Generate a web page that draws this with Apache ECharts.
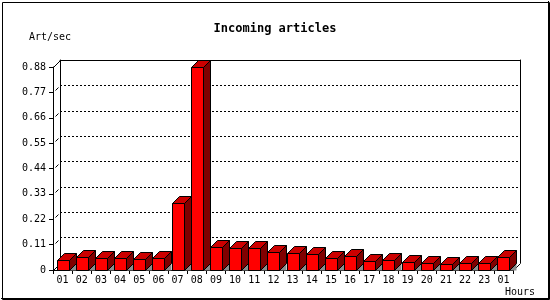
<!DOCTYPE html>
<html>
<head>
<meta charset="utf-8">
<script src="https://cdn.jsdelivr.net/npm/echarts@6/dist/echarts.min.js"></script>
<style>html,body{margin:0;padding:0;background:#fff}#c{width:550px;height:300px}</style>
</head>
<body>
<div id="c"></div>
<script>
const hours = ['01','02','03','04','05','06','07','08','09','10','11','12','13','14','15','16','17','18','19','20','21','22','23','01'];
const artPerSec = [0.042,0.057,0.051,0.051,0.046,0.051,0.291,0.88,0.099,0.094,0.094,0.077,0.072,0.068,0.051,0.059,0.038,0.042,0.033,0.029,0.025,0.029,0.029,0.055];
const yMin = 0, yMax = 0.88, yStep = 0.11;
const titleText = 'Incoming articles';
const yName = 'Art/sec';
const xName = 'Hours';

const FONT = 'DejaVu Sans Mono';
const DEPTH = 7;
const px = v => Math.round(v) + 0.5;

const chart = echarts.init(document.getElementById('c'), null, {renderer: 'canvas'});

function renderBar(params, api) {
  const idx = api.value(0), val = api.value(1);
  const top = api.coord([idx, val]);
  const base = api.coord([idx, 0]);
  const w = Math.round(api.size([1, 0])[0] * 0.6);
  const x0 = px(top[0] - w / 2), x1 = x0 + w;
  const yt = px(top[1]), yb = px(base[1]);
  const d = DEPTH;
  return {
    type: 'group',
    children: [
      {type: 'polygon', shape: {points: [[x1, yb], [x1 + d, yb - d], [x1 + d, yb]]},
       style: {fill: '#8c8c8c', stroke: null}},
      {type: 'polygon', shape: {points: [[x1, yb], [x1, yt], [x1 + d, yt - d], [x1 + d, yb - d]]},
       style: {fill: '#800000', stroke: '#000', lineWidth: 1}},
      {type: 'polygon', shape: {points: [[x0, yt], [x0 + d, yt - d], [x1 + d, yt - d], [x1, yt]]},
       style: {fill: '#cc0000', stroke: '#000', lineWidth: 1}},
      {type: 'rect', shape: {x: x0, y: yt, width: w, height: yb - yt},
       style: {fill: '#ff0000', stroke: '#000', lineWidth: 1}}
    ]
  };
}

function renderFrame(params, api) {
  const r = params.coordSys;
  const d = DEPTH;
  const x = px(r.x), y = px(r.y), xr = px(r.x + r.width), yb = px(r.y + r.height);
  const children = [
    {type: 'line', shape: {x1: x, y1: y, x2: x + d, y2: y - d}, style: {stroke: '#000', lineWidth: 1}},
    {type: 'line', shape: {x1: x, y1: yb, x2: x + d, y2: yb - d}, style: {stroke: '#000', lineWidth: 1}},
    {type: 'line', shape: {x1: xr, y1: yb, x2: xr + d, y2: yb - d}, style: {stroke: '#000', lineWidth: 1}}
  ];
  for (let v = yMin + yStep; v < yMax - 1e-9; v += yStep) {
    const ty = px(api.coord([0, v])[1]);
    children.push({type: 'line', shape: {x1: x + 2, y1: ty - 2, x2: x + 5, y2: ty - 5},
      style: {stroke: '#000', lineWidth: 1}});
  }
  return {type: 'group', children};
}

const option = {
  animation: false,
  backgroundColor: '#fff',
  title: {
    text: titleText, left: 'center', top: 18,
    textStyle: {fontFamily: FONT, fontSize: 12, fontWeight: 'bold', color: '#000'}
  },
  grid: [
    {left: 53, right: 37, top: 67, bottom: 30},
    {left: 60, right: 30, top: 60, bottom: 37}
  ],
  xAxis: [
    {
      type: 'category', gridIndex: 0, data: hours, boundaryGap: true,
      axisLine: {lineStyle: {color: '#000', width: 1}},
      axisTick: {show: true, interval: 0, length: 4, alignWithLabel: false, lineStyle: {color: '#000'}},
      axisLabel: {interval: 0, margin: 5, fontFamily: FONT, fontSize: 10, color: '#000'},
      splitLine: {show: false}
    },
    {
      type: 'value', gridIndex: 1, position: 'top', min: 0, max: 1,
      axisLine: {show: true, onZero: false, lineStyle: {color: '#000', width: 1}},
      axisTick: {show: false}, axisLabel: {show: false}, splitLine: {show: false}
    }
  ],
  yAxis: [
    {
      type: 'value', gridIndex: 0, min: yMin, max: yMax, interval: yStep,
      axisLine: {show: true, lineStyle: {color: '#000', width: 1}},
      axisTick: {show: true, length: 4, lineStyle: {color: '#000'}},
      axisLabel: {margin: 7, fontFamily: FONT, fontSize: 10, color: '#000',
        formatter: v => v === 0 ? '0' : v.toFixed(2)},
      splitLine: {show: false}
    },
    {
      type: 'value', gridIndex: 1, min: yMin, max: yMax, interval: yStep, position: 'left',
      axisLine: {show: true, onZero: false, lineStyle: {color: '#000', width: 1}},
      axisTick: {show: false}, axisLabel: {show: false},
      splitLine: {show: true, showMinLine: false, showMaxLine: false,
        lineStyle: {color: '#000', width: 1, type: [2, 2]}}
    },
    {
      type: 'value', gridIndex: 1, min: yMin, max: yMax, position: 'right',
      axisLine: {show: true, onZero: false, lineStyle: {color: '#000', width: 1}},
      axisTick: {show: false}, axisLabel: {show: false}, splitLine: {show: false}
    }
  ],
  graphic: [
    {type: 'text', left: 29, top: 32, style: {text: yName, font: '10px "' + FONT + '"', fill: '#000'}},
    {type: 'text', left: 505, top: 287, style: {text: xName, font: '10px "' + FONT + '"', fill: '#000'}},
    {type: 'rect', left: 0, top: 0, shape: {x: 0.5, y: 0.5, width: 547, height: 297},
     style: {fill: null, stroke: '#000', lineWidth: 1}, z: 100},
    {type: 'line', shape: {x1: 548.5, y1: 1, x2: 548.5, y2: 299}, style: {stroke: '#000', lineWidth: 1}, z: 100},
    {type: 'line', shape: {x1: 1, y1: 298.5, x2: 549, y2: 298.5}, style: {stroke: '#000', lineWidth: 1}, z: 100}
  ],
  series: [
    {
      type: 'custom', name: 'frame', xAxisIndex: 0, yAxisIndex: 0,
      renderItem: renderFrame, data: [[0, 0]], silent: true, z: 1
    },
    {
      type: 'custom', name: yName, xAxisIndex: 0, yAxisIndex: 0,
      renderItem: renderBar, clip: false,
      data: artPerSec.map((v, i) => [i, v]), z: 3
    }
  ]
};
chart.setOption(option);
</script>
</body>
</html>
